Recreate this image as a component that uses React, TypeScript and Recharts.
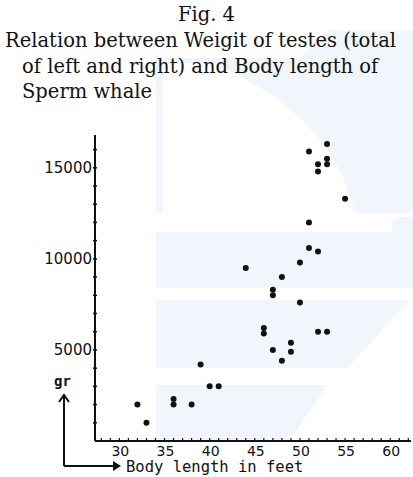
import React from "react";
import { ScatterChart, Scatter, XAxis, YAxis } from "recharts";

// Body length (feet) and testes weight (gr) of each whale
const bodyLengths = [32, 33, 36, 36, 38, 39, 40, 41, 44, 46, 46, 47, 47, 47, 48, 48, 49, 49, 50, 50, 51, 51, 51, 52, 52, 52, 52, 53, 53, 53, 53, 55];
const testesWeights = [2000, 1000, 2300, 2000, 2000, 4200, 3000, 3000, 9500, 6200, 5900, 8300, 8000, 5000, 9000, 4400, 5400, 4900, 9800, 7600, 12000, 10600, 15900, 10400, 14800, 15200, 6000, 6000, 15200, 15500, 16300, 13300];

const xTicks = [28, 29, 30, 31, 32, 33, 34, 35, 36, 37, 38, 39, 40, 41, 42, 43, 44, 45, 46, 47, 48, 49, 50, 51, 52, 53, 54, 55, 56, 57, 58, 59, 60, 61, 62];
const xLabelTicks = [30, 35, 40, 45, 50, 55, 60];
const yTicks = [1000, 2000, 3000, 4000, 5000, 6000, 7000, 8000, 9000, 10000, 11000, 12000, 13000, 14000, 15000, 16000];
const yLabelTicks = [5000, 10000, 15000];

const figLabel = "Fig. 4";
const titleLines = [
  "Relation between Weigit of testes (total",
  "of left and right) and Body length of",
  "Sperm whale",
];
const xAxisTitle = "Body length in feet";
const yAxisTitle = "gr";

const data = bodyLengths.map((l, i) => ({ length: l, weight: testesWeights[i] }));

const tickFont = "'DejaVu Sans', sans-serif";
const wm = "#f0f6fb";

const XTick = (props: any) => {
  const { x, y, payload } = props;
  const show = xLabelTicks.includes(payload.value);
  return (
    <g>
      <line x1={x} x2={x} y1={y - 3} y2={y} stroke="#111" strokeWidth={1.2} />
      {show ? (
        <text x={x + 1} y={y + 15} textAnchor="middle" fontFamily={tickFont} fontSize={14} fill="#111">
          {payload.value}
        </text>
      ) : null}
    </g>
  );
};

const YTick = (props: any) => {
  const { x, y, payload } = props;
  const show = yLabelTicks.includes(payload.value);
  return (
    <g>
      <line x1={x - 2} x2={x + 2} y1={y} y2={y} stroke="#111" strokeWidth={1.5} />
      {show ? (
        <text x={x - 3} y={y + 5} textAnchor="end" fontFamily={tickFont} fontSize={15} fill="#111">
          {payload.value}
        </text>
      ) : null}
    </g>
  );
};

const Dot = (props: any) => {
  const { cx, cy } = props;
  return <circle cx={cx} cy={cy} r={3} fill="#111" />;
};

export default function App() {
  return (
    <div style={{ position: "absolute", left: 0, top: 0, width: 413, height: 477, background: "#fff", overflow: "hidden" }}>
      {/* faint watermark shapes */}
      <svg width={413} height={477} style={{ position: "absolute", left: 0, top: 0 }}>
        <rect x={156} y={58} width={257} height={155} fill={wm} />
        <polygon points="330,30 413,30 413,58 300,58" fill={wm} />
        <path d="M 163 63 L 210 63 Q 330 110 355 213 L 163 213 Z" fill="#fff" />
        <rect x={156} y={232} width={257} height={56} fill={wm} />
        <rect x={392} y={217} width={30} height={20} rx={8} fill={wm} />
        <polygon points="156,300 410,300 347,368 156,368" fill={wm} />
        <polygon points="156,385 327,385 290,440 156,440" fill={wm} />
      </svg>
      <div
        style={{
          position: "absolute",
          left: 0,
          top: 0,
          width: 413,
          fontFamily: "'DejaVu Serif', serif",
          fontSize: 19.5,
          color: "#111",
          lineHeight: "26px",
        }}
      >
        <div style={{ position: "absolute", top: 2, width: 413, textAlign: "center" }}>{figLabel}</div>
        <div style={{ position: "absolute", top: 28, left: 5, whiteSpace: "nowrap" }}>{titleLines[0]}</div>
        <div style={{ position: "absolute", top: 54, left: 22, whiteSpace: "nowrap" }}>{titleLines[1]}</div>
        <div style={{ position: "absolute", top: 79, left: 22, whiteSpace: "nowrap" }}>{titleLines[2]}</div>
      </div>
      <div style={{ position: "absolute", left: 0, top: 0 }}>
        <ScatterChart width={413} height={477} margin={{ top: 135, right: 2, bottom: 0, left: 0 }}>
          <XAxis
            type="number"
            dataKey="length"
            domain={[27.3, 62.3]}
            ticks={xTicks}
            allowDataOverflow
            height={36}
            tickSize={0}
            tickMargin={0}
            tickLine={false}
            axisLine={{ stroke: "#111", strokeWidth: 2 }}
            tick={<XTick />}
            interval={0}
          />
          <YAxis
            type="number"
            dataKey="weight"
            domain={[0, 16800]}
            ticks={yTicks}
            allowDataOverflow
            width={95}
            tickSize={0}
            tickMargin={0}
            tickLine={false}
            axisLine={{ stroke: "#111", strokeWidth: 2 }}
            tick={<YTick />}
            interval={0}
          />
          <Scatter data={data} fill="#111" shape={<Dot />} isAnimationActive={false} />
        </ScatterChart>
      </div>
      <svg width={413} height={477} style={{ position: "absolute", left: 0, top: 0, pointerEvents: "none" }}>
        <text x={54} y={386} fontFamily="'DejaVu Sans Mono', monospace" fontSize={14} fontWeight="bold" fill="#111">
          {yAxisTitle}
        </text>
        <line x1={64} y1={466} x2={64} y2={396} stroke="#111" strokeWidth={2} />
        <polyline points="59,402 64,395 69,402" fill="none" stroke="#111" strokeWidth={2} />
        <line x1={64} y1={466} x2={119} y2={466} stroke="#111" strokeWidth={2} />
        <polygon points="113,461 121,466 113,471" fill="#111" />
        <text x={126} y={472} fontFamily="'DejaVu Sans Mono', monospace" fontSize={15.5} fill="#111">
          {xAxisTitle}
        </text>
      </svg>
    </div>
  );
}
